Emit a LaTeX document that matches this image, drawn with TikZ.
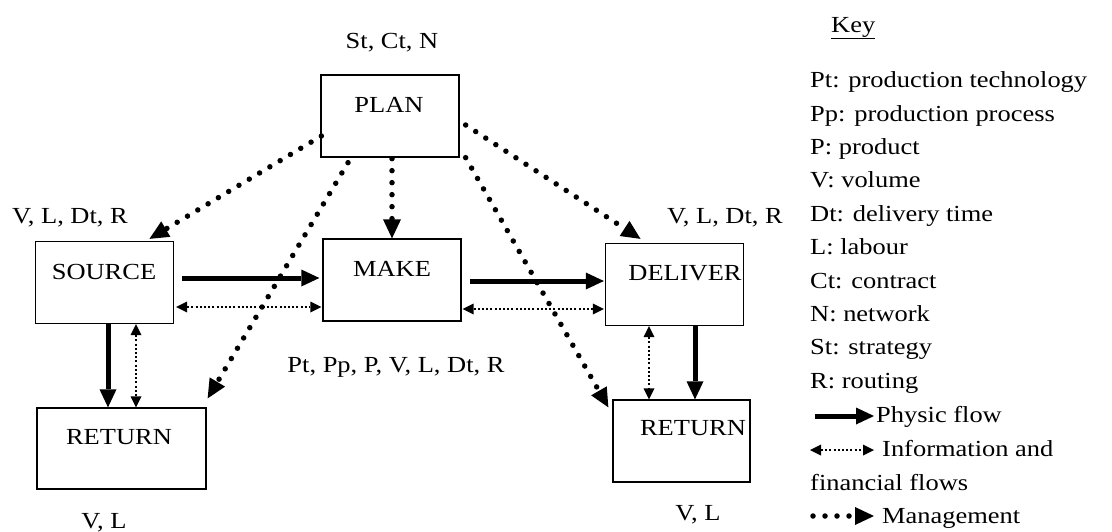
\documentclass[tikz,border=0pt]{standalone}
\usepackage{fontspec}
\setmainfont[FakeStretch=1.15]{Liberation Serif}
\usetikzlibrary{arrows.meta,calc}
\tikzset{
  box/.style={draw, line width=1.3pt, minimum width=138pt, minimum height=82pt, inner sep=0pt},
  lbl/.style={anchor=base, inner sep=0pt, font=\fontsize{23}{27}\selectfont},
  keyt/.style={anchor=base west, inner sep=0pt, font=\fontsize{23}{27}\selectfont},
  phys/.style={line width=5pt, -{Triangle[length=18pt,width=17pt,line width=0pt]}},
  info/.style={line width=1.6pt, dash pattern=on 2pt off 2.2pt,
    {Triangle[length=11pt,width=11pt,line width=0pt]}-{Triangle[length=11pt,width=11pt,line width=0pt]}},
  mgmt/.style={line width=5.5pt, line cap=round, dash pattern=on 0pt off 12pt,
    -{Triangle[length=19pt,width=18pt,line width=0pt]}}
}
\begin{document}
\begin{tikzpicture}[x=1pt,y=-1pt]
\useasboundingbox (0,0) rectangle (1112,531);
% boxes
\node[box] (plan) at (390,116) {};
\node[box] (source) at (104.5,282.5) {};
\node[box] (make) at (392,280) {};
\node[box] (deliver) at (674.5,284.5) {};
\node[box, minimum width=169pt, minimum height=81pt] (returnL) at (121.5,448.5) {};
\node[box, minimum width=137pt] (returnR) at (681.5,441) {};
% box texts
\node[lbl] (tplan) at (389,112) {PLAN};
\node[lbl] (tsource) at (104,279) {SOURCE};
\node[lbl] (tmake) at (392,276) {MAKE};
\node[lbl] (tdeliver) at (685,280) {DELIVER};
\node[lbl] (treturnL) at (119,444) {RETURN};
\node[lbl] (treturnR) at (693,435) {RETURN};
% labels
\node[lbl] (lplan) at (392,48) {St, Ct, N};
\node[lbl] (lsource) at (70,223) {V, L, Dt, R};
\node[lbl] (ldeliver) at (725,223) {V, L, Dt, R};
\node[lbl] (lmake) at (396,372) {Pt, Pp, P, V, L, Dt, R};
\node[lbl] (lretL) at (104,528) {V, L};
\node[lbl] (lretR) at (698,520) {V, L};
% physical flows
\draw[phys] ($(source.east)+(8,-4.5)$) -- ($(make.west)+(-3,-2)$);
\draw[phys] ($(make.east)+(8,1)$) -- ($(deliver.west)+(-1,-3.5)$);
\draw[phys] ($(source.south)+(3.5,0)$) -- ($(returnL.north)+(-13.5,0)$);
\draw[phys] ($(deliver.south)+(20.5,0)$) -- ($(returnR.north)+(13.5,0)$);
% information flows
\draw[info] ($(source.east)+(2,24.5)$) -- ($(make.west)+(-1,27)$);
\draw[info] ($(make.east)+(1,29)$) -- ($(deliver.west)+(-1,24.5)$);
\draw[info] ($(source.south)+(31.5,0)$) -- ($(returnL.north)+(14.5,0)$);
\draw[info] ($(deliver.south)+(-25.5,0)$) -- ($(returnR.north)+(-32.5,0)$);
% management flows
\draw[mgmt] ($(plan.west)+(1,20)$) -- ($(source.north)+(45,-2)$);
\draw[mgmt] ($(plan.south)+(-42,5)$) -- ($(returnL.north east)+(1,-9)$);
\draw[mgmt] ($(plan.south)+(2,1)$) -- (make.north);
\draw[mgmt] ($(plan.east)+(6,9)$) -- ($(deliver.north)+(-34,-4)$);
\draw[mgmt] ($(plan.south east)+(6,0)$) -- ($(returnR.north west)+(-4,8)$);
% key
\node[keyt] (key) at (831,32) {\underline{Key}};
\node[keyt] (k1) at (810,87) {Pt: production technology};
\node[keyt] (k2) at (810,121) {Pp: production process};
\node[keyt] (k3) at (810,154) {P: product};
\node[keyt] (k4) at (810,187.5) {V: volume};
\node[keyt] (k5) at (810,221) {Dt: delivery time};
\node[keyt] (k6) at (810,254) {L: labour};
\node[keyt] (k7) at (810,288) {Ct: contract};
\node[keyt] (k8) at (810,321) {N: network};
\node[keyt] (k9) at (810,354) {St: strategy};
\node[keyt] (k10) at (810,388) {R: routing};
\node[keyt] (k11) at (876,422) {Physic flow};
\node[keyt] (k12) at (882,456) {Information and};
\node[keyt] (k13) at (810,490) {financial flows};
\node[keyt] (k14) at (882,523) {Management};
\coordinate (p1) at (815,416);
\coordinate (p2) at (874,416);
\coordinate (i1) at (810,450);
\coordinate (i2) at (874,450);
\coordinate (m1) at (813,516);
\coordinate (m2) at (874,516);
\draw[phys] (p1) -- (p2);
\draw[info] (i1) -- (i2);
\draw[mgmt] (m1) -- (m2);
\end{tikzpicture}
\end{document}
